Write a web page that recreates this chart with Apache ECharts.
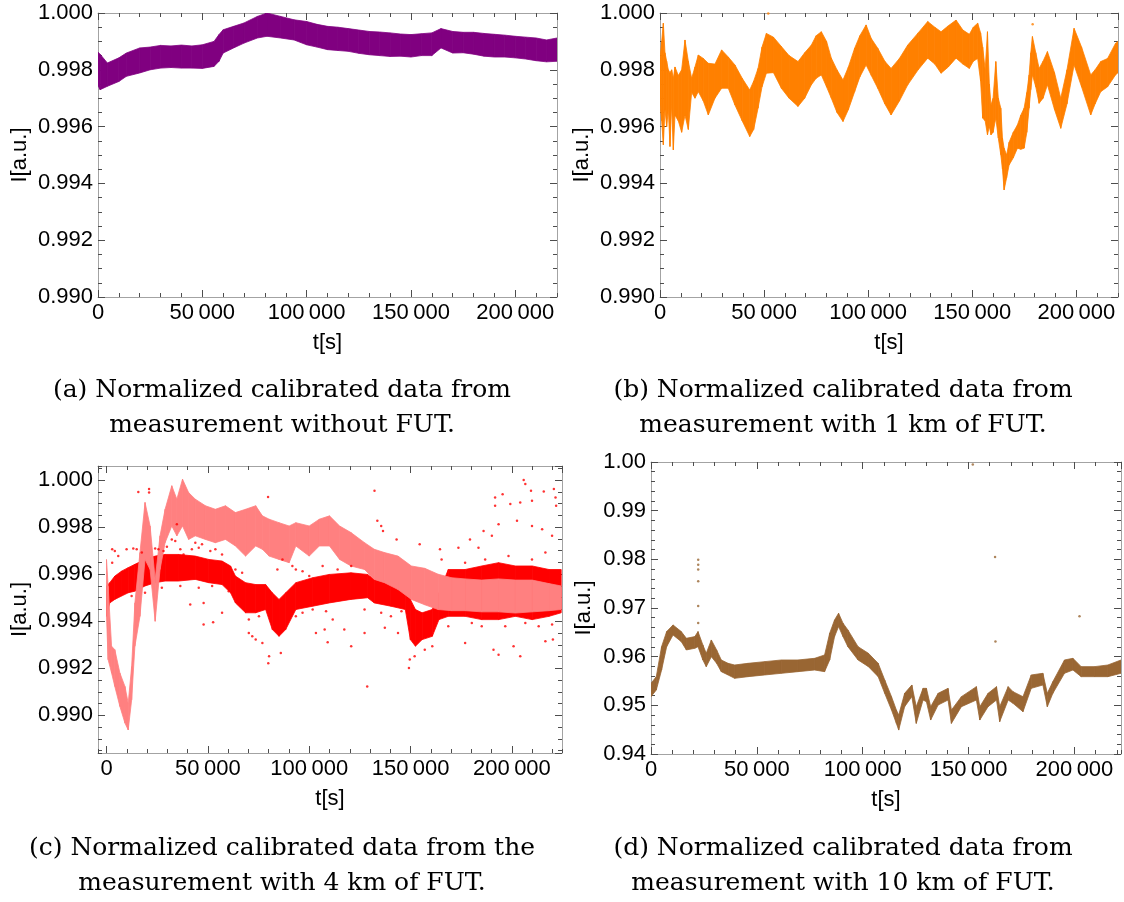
<!DOCTYPE html>
<html>
<head>
<meta charset="utf-8">
<script src="https://cdn.jsdelivr.net/npm/echarts@6/dist/echarts.min.js"></script>
<style>
  html, body { margin: 0; padding: 0; background: #fff; }
  #chart { width: 1124px; height: 902px; }
</style>
</head>
<body>
<div id="chart"></div>
<script>
// (a) without FUT - band edges
const tA  = [0, 1000, 4500, 10000, 13600, 20000, 25000, 30000, 35000, 40000, 45000, 50000, 55600, 58000, 60000, 65000, 70000, 76400, 81000, 87500, 94000, 100000, 105000, 110000, 115000, 120000, 125000, 130000, 135000, 140000, 145000, 150000, 155000, 160000, 164400, 170000, 175000, 180000, 185000, 190000, 195000, 200000, 205000, 210000, 215000, 220000];
const hiA = [0.99862, 0.99855, 0.99824, 0.99842, 0.99859, 0.99877, 0.99880, 0.99886, 0.99884, 0.99887, 0.99884, 0.99888, 0.99900, 0.99924, 0.99941, 0.99953, 0.99965, 0.99988, 1.00000, 0.99988, 0.99976, 0.99970, 0.99960, 0.99953, 0.99950, 0.99945, 0.99940, 0.99935, 0.99933, 0.99930, 0.99926, 0.99924, 0.99927, 0.99930, 0.99945, 0.99935, 0.99932, 0.99932, 0.99928, 0.99925, 0.99922, 0.99918, 0.99915, 0.99912, 0.99905, 0.99912];
const loA = [0.99745, 0.99730, 0.99742, 0.99759, 0.99777, 0.99789, 0.99800, 0.99806, 0.99808, 0.99806, 0.99806, 0.99805, 0.99812, 0.99830, 0.99859, 0.99877, 0.99894, 0.99912, 0.99918, 0.99912, 0.99905, 0.99888, 0.99880, 0.99871, 0.99868, 0.99865, 0.99858, 0.99853, 0.99850, 0.99847, 0.99848, 0.99845, 0.99850, 0.99850, 0.99877, 0.99859, 0.99860, 0.99855, 0.99848, 0.99845, 0.99845, 0.99842, 0.99838, 0.99832, 0.99828, 0.99830];

// (b) 1 km of FUT
const tB  = [0, 800, 1600, 2400, 3200, 4000, 4800, 5600, 6400, 7200, 8800, 10400, 12000, 13600, 15200, 16800, 18400, 20800, 23200, 26400, 29600, 32800, 36000, 39500, 43100, 45000, 47100, 49000, 51100, 54500, 58300, 62000, 66300, 69500, 72700, 75000, 77500, 80000, 82300, 85000, 87900, 90500, 93500, 96000, 99000, 101500, 104600, 108000, 111000, 115000, 119000, 124000, 128600, 132000, 135000, 138500, 142200, 145500, 148600, 150500, 152600, 154000, 155000, 156200, 157300, 158200, 159000, 160000, 161300, 162500, 163700, 164500, 165300, 166500, 167700, 169700, 171700, 173300, 174900, 176200, 177300, 178100, 178900, 180500, 182100, 184000, 186100, 189500, 192500, 195500, 198900, 202500, 206900, 209000, 211700, 215000, 218800, 220000];
const hiB = [0.99841, 0.99900, 0.99964, 0.99860, 0.99830, 0.99800, 0.99790, 0.99800, 0.99770, 0.99810, 0.99780, 0.99800, 0.99905, 0.99830, 0.99770, 0.99810, 0.99852, 0.99840, 0.99823, 0.99820, 0.99870, 0.99845, 0.99817, 0.99770, 0.99729, 0.99760, 0.99805, 0.99880, 0.99928, 0.99915, 0.99882, 0.99850, 0.99829, 0.99860, 0.99887, 0.99920, 0.99934, 0.99900, 0.99841, 0.99800, 0.99764, 0.99810, 0.99876, 0.99920, 0.99958, 0.99910, 0.99876, 0.99830, 0.99805, 0.99840, 0.99887, 0.99930, 0.99970, 0.99950, 0.99934, 0.99955, 0.99975, 0.99940, 0.99925, 0.99950, 0.99964, 0.99930, 0.99880, 0.99800, 0.99934, 0.99750, 0.99676, 0.99700, 0.99829, 0.99700, 0.99665, 0.99560, 0.99524, 0.99500, 0.99545, 0.99580, 0.99606, 0.99640, 0.99665, 0.99720, 0.99782, 0.99860, 0.99917, 0.99860, 0.99805, 0.99830, 0.99864, 0.99790, 0.99700, 0.99800, 0.99946, 0.99880, 0.99782, 0.99800, 0.99829, 0.99840, 0.99893, 0.99900];
const loB = [0.99676, 0.99620, 0.99536, 0.99660, 0.99600, 0.99660, 0.99530, 0.99680, 0.99518, 0.99640, 0.99620, 0.99580, 0.99640, 0.99590, 0.99720, 0.99700, 0.99723, 0.99690, 0.99641, 0.99700, 0.99735, 0.99735, 0.99676, 0.99620, 0.99565, 0.99590, 0.99665, 0.99740, 0.99788, 0.99790, 0.99735, 0.99700, 0.99671, 0.99700, 0.99747, 0.99770, 0.99782, 0.99740, 0.99700, 0.99650, 0.99618, 0.99660, 0.99723, 0.99775, 0.99817, 0.99780, 0.99735, 0.99680, 0.99641, 0.99690, 0.99747, 0.99800, 0.99841, 0.99820, 0.99788, 0.99810, 0.99841, 0.99820, 0.99805, 0.99830, 0.99840, 0.99760, 0.99630, 0.99620, 0.99571, 0.99600, 0.99571, 0.99580, 0.99630, 0.99560, 0.99501, 0.99450, 0.99377, 0.99420, 0.99465, 0.99490, 0.99524, 0.99520, 0.99524, 0.99580, 0.99665, 0.99730, 0.99782, 0.99740, 0.99682, 0.99700, 0.99747, 0.99660, 0.99594, 0.99680, 0.99817, 0.99740, 0.99641, 0.99680, 0.99723, 0.99740, 0.99782, 0.99790];
const dotsBt = [52000, 179000];
const dotsBv = [0.99998, 0.99960];

// (c) 4 km of FUT: pink band, red band and red outlier points
const tCp  = [0, 800, 2500, 4100, 6600, 9100, 10700, 12400, 14000, 16500, 19000, 21500, 24000, 26400, 28900, 32200, 34700, 37500, 40500, 43800, 48800, 53700, 58700, 63600, 68600, 73600, 76900, 80200, 85100, 90100, 93400, 100000, 105000, 110000, 115000, 120600, 127300, 132100, 137100, 143800, 150400, 157000, 163600, 170200, 176900, 185100, 193400, 201700, 210000, 218300, 224300];
const hiCp = [0.99663, 0.99549, 0.99294, 0.99279, 0.99180, 0.99123, 0.99052, 0.99208, 0.99478, 0.99692, 0.99905, 0.99805, 0.99578, 0.99763, 0.99876, 0.99976, 0.99919, 1.00004, 0.99947, 0.99919, 0.99891, 0.99876, 0.99891, 0.99862, 0.99876, 0.99891, 0.99848, 0.99834, 0.99819, 0.99805, 0.99819, 0.99805, 0.99834, 0.99848, 0.99805, 0.99777, 0.99734, 0.99706, 0.99692, 0.99677, 0.99635, 0.99625, 0.99600, 0.99585, 0.99580, 0.99575, 0.99580, 0.99575, 0.99575, 0.99560, 0.99550];
const loCp = [0.99421, 0.99237, 0.99180, 0.99123, 0.99038, 0.98967, 0.98938, 0.99066, 0.99294, 0.99421, 0.99663, 0.99620, 0.99400, 0.99620, 0.99734, 0.99805, 0.99763, 0.99805, 0.99748, 0.99763, 0.99748, 0.99734, 0.99748, 0.99720, 0.99677, 0.99720, 0.99706, 0.99677, 0.99663, 0.99649, 0.99720, 0.99677, 0.99720, 0.99720, 0.99663, 0.99635, 0.99620, 0.99578, 0.99564, 0.99535, 0.99493, 0.99470, 0.99450, 0.99445, 0.99445, 0.99440, 0.99440, 0.99435, 0.99440, 0.99445, 0.99450];
const tCr  = [0, 1600, 4100, 7400, 10700, 14000, 19000, 24000, 28900, 35500, 43800, 50400, 57000, 61200, 63600, 68600, 73600, 78500, 81800, 85100, 88400, 93400, 101700, 109900, 120600, 128800, 132100, 140300, 147400, 149900, 152400, 155700, 160700, 164000, 168600, 176900, 185100, 193400, 201700, 210000, 218300, 224300];
const hiCr = [0.99550, 0.99564, 0.99592, 0.99613, 0.99628, 0.99642, 0.99663, 0.99677, 0.99684, 0.99684, 0.99677, 0.99663, 0.99656, 0.99635, 0.99592, 0.99564, 0.99556, 0.99556, 0.99521, 0.99493, 0.99521, 0.99564, 0.99585, 0.99599, 0.99606, 0.99599, 0.99578, 0.99571, 0.99564, 0.99493, 0.99450, 0.99436, 0.99450, 0.99521, 0.99620, 0.99620, 0.99635, 0.99649, 0.99635, 0.99635, 0.99620, 0.99620];
const loCr = [0.99421, 0.99478, 0.99493, 0.99507, 0.99521, 0.99528, 0.99550, 0.99564, 0.99571, 0.99571, 0.99578, 0.99564, 0.99556, 0.99521, 0.99478, 0.99436, 0.99436, 0.99450, 0.99365, 0.99336, 0.99365, 0.99450, 0.99464, 0.99478, 0.99493, 0.99500, 0.99478, 0.99464, 0.99450, 0.99322, 0.99294, 0.99322, 0.99336, 0.99407, 0.99421, 0.99421, 0.99407, 0.99407, 0.99421, 0.99407, 0.99421, 0.99436];
const dotsCt = [15700, 21000, 21000, 2800, 2800, 13200, 14900, 24000, 25600, 32200, 33900, 42100, 43800, 47100, 41300, 47900, 47900, 52600, 57000, 63600, 66900, 70200, 71900, 73600, 76900, 79800, 80200, 86000, 84300, 86800, 93400, 100000, 103300, 107600, 109100, 111600, 79700, 34700,
  132200, 133600, 135500, 136400, 143100, 154500, 164500, 165300, 173600, 120700, 128600, 191700, 191700, 195400, 199200, 205800, 206600, 204100, 209400, 209900, 215700, 220700, 221500, 221800, 202500, 209900, 214900, 219800, 190100, 193400, 179300, 183500, 186000, 190900, 193400, 204100, 200800, 216500, 220200, 176900, 149600, 149200, 152000, 117300, 127300, 137300, 143800,
  4100, 5800, 9900, 17400, 28100, 29800, 36400, 38000, 45500, 51200, 53700, 57000, 36400, 45500, 52100, 60300, 12400, 19000, 27300, 70200, 75200, 93400, 96700, 101700, 108300, 91700, 96700, 106600,
  114000, 120700, 127300, 135500, 140300, 145500, 157000, 160700, 168600, 180200, 185100, 196700, 206600, 213200, 219800, 176900, 186800, 198300, 209900, 216500];
const dotsCv = [0.99950, 0.99962, 0.99947, 0.99706, 0.99649, 0.99709, 0.99706, 0.99709, 0.99706, 0.99748, 0.99741, 0.99706, 0.99734, 0.99727, 0.99471, 0.99478, 0.99386, 0.99396, 0.99436, 0.99620, 0.99606, 0.99350, 0.99336, 0.99322, 0.99308, 0.99222, 0.99251, 0.99265, 0.99620, 0.99663, 0.99620, 0.99592, 0.99350, 0.99365, 0.99311, 0.99407, 0.99928, 0.99812,
  0.99955, 0.99827, 0.99805, 0.99784, 0.99748, 0.99727, 0.99706, 0.99663, 0.99713, 0.99294, 0.99123, 0.99926, 0.99891, 0.99940, 0.99898, 1.00000, 0.99983, 0.99905, 0.99955, 0.99912, 0.99952, 0.99962, 0.99926, 0.99891, 0.99827, 0.99805, 0.99791, 0.99763, 0.99763, 0.99812, 0.99748, 0.99713, 0.99784, 0.99279, 0.99258, 0.99251, 0.99294, 0.99315, 0.99322, 0.99308, 0.99237, 0.99201, 0.99251, 0.99365, 0.99350, 0.99372, 0.99350,
  0.99699, 0.99677, 0.99706, 0.99692, 0.99699, 0.99717, 0.99706, 0.99684, 0.99713, 0.99699, 0.99706, 0.99684, 0.99550, 0.99542, 0.99550, 0.99528, 0.99507, 0.99521, 0.99542, 0.99407, 0.99421, 0.99421, 0.99436, 0.99450, 0.99443, 0.99635, 0.99613, 0.99635,
  0.99620, 0.99635, 0.99450, 0.99436, 0.99421, 0.99443, 0.99279, 0.99294, 0.99379, 0.99393, 0.99379, 0.99379, 0.99393, 0.99379, 0.99386, 0.99649, 0.99663, 0.99677, 0.99663, 0.99692];

// (d) 10 km of FUT
const tD  = [0, 2500, 5000, 7400, 10400, 14300, 16700, 20700, 22200, 24500, 26100, 28500, 31000, 33200, 36400, 39500, 45800, 53700, 61600, 69400, 77300, 82000, 84400, 86700, 88600, 90700, 93000, 97800, 102700, 107300, 110400, 113600, 115900, 117000, 119800, 123200, 125300, 128500, 130100, 132100, 135600, 140300, 141900, 146600, 153700, 155300, 159200, 163200, 164700, 168700, 171000, 175700, 179600, 185100, 187200, 189800, 195300, 199300, 203200, 209500, 215800, 222000];
const hiD = [0.95452, 0.95589, 0.96206, 0.96515, 0.96652, 0.96515, 0.96378, 0.96412, 0.96515, 0.96241, 0.96069, 0.96343, 0.96138, 0.95932, 0.95863, 0.95829, 0.95863, 0.95898, 0.95932, 0.95932, 0.95966, 0.96035, 0.96481, 0.96755, 0.96892, 0.96687, 0.96549, 0.96206, 0.96069, 0.95863, 0.95521, 0.95178, 0.94904, 0.94800, 0.95246, 0.95418, 0.94972, 0.95349, 0.95349, 0.94972, 0.95246, 0.95349, 0.94904, 0.95178, 0.95384, 0.94972, 0.95246, 0.95384, 0.94972, 0.95384, 0.95281, 0.95178, 0.95624, 0.95658, 0.95246, 0.95486, 0.95932, 0.95966, 0.95795, 0.95795, 0.95829, 0.95932];
const loD = [0.95178, 0.95315, 0.95726, 0.96206, 0.96446, 0.96309, 0.96138, 0.96172, 0.96206, 0.95932, 0.95795, 0.96000, 0.95863, 0.95692, 0.95624, 0.95555, 0.95589, 0.95624, 0.95658, 0.95692, 0.95726, 0.95692, 0.95932, 0.96412, 0.96618, 0.96412, 0.96206, 0.95932, 0.95795, 0.95589, 0.95246, 0.94904, 0.94629, 0.94492, 0.94972, 0.95178, 0.94629, 0.95109, 0.95075, 0.94698, 0.95006, 0.95109, 0.94629, 0.94972, 0.95109, 0.94698, 0.94972, 0.95109, 0.94664, 0.95109, 0.95041, 0.94869, 0.95349, 0.95418, 0.94972, 0.95246, 0.95658, 0.95726, 0.95589, 0.95589, 0.95589, 0.95658];
const dotsDt = [22300, 22300, 22300, 22300, 22300, 22300, 162500, 162700, 202400, 152000];
const dotsDv = [0.9799, 0.9789, 0.9779, 0.9755, 0.9704, 0.9669, 0.9805, 0.9631, 0.9683, 0.9995];

const captions = [
  ['(a) Normalized calibrated data from', 'measurement without FUT.'],
  ['(b) Normalized calibrated data from', 'measurement with 1 km of FUT.'],
  ['(c) Normalized calibrated data from the', 'measurement with 4 km of FUT.'],
  ['(d) Normalized calibrated data from', 'measurement with 10 km of FUT.']
];

const FRAME = '#a3a3a3';
const TICK = '#4d4d4d';
const SANS = '"Liberation Sans", Arial, sans-serif';
const labelFont = { fontFamily: SANS, fontSize: 22, color: '#000' };

const grids = [
  { left: 98, top: 13, width: 459, height: 284 },
  { left: 660, top: 13, width: 458, height: 284 },
  { left: 98, top: 466, width: 464, height: 287 },
  { left: 651, top: 462, width: 470, height: 292 }
];

function fmtT(v) {
  return String(Math.round(v)).replace(/\B(?=(\d{3})+(?!\d))/g, '\u2009');
}

// 4 axes per side pair: labelled major, minor ticks, mirrored major, mirrored minor
function axisSet(dim, g, min, max, majorSplit, minorSplit, lab) {
  const near = dim === 'x' ? 'bottom' : 'left';
  const far = dim === 'x' ? 'top' : 'right';
  const base = { gridIndex: g, type: 'value', min: min, max: max, splitLine: { show: false } };
  const major = (pos, withLabel) => Object.assign({}, base, {
    position: pos,
    splitNumber: majorSplit,
    axisLine: { show: true, onZero: false, lineStyle: { color: FRAME, width: 1 } },
    axisTick: { show: true, inside: true, length: 7, lineStyle: { color: TICK } },
    axisLabel: withLabel ? Object.assign({
      show: true, margin: 5, formatter: lab.fmt,
      showMinLabel: lab.showMin, showMaxLabel: lab.showMax
    }, labelFont) : { show: false },
    name: withLabel ? lab.name : '',
    nameLocation: 'middle',
    nameGap: lab.gap,
    nameRotate: dim === 'y' ? 90 : 0,
    nameTextStyle: labelFont
  });
  const minor = pos => Object.assign({}, base, {
    position: pos,
    splitNumber: minorSplit,
    axisLine: { show: false, onZero: false },
    axisTick: { show: true, inside: true, length: 4, lineStyle: { color: TICK } },
    axisLabel: { show: false }
  });
  return [major(near, true), minor(near), major(far, false), minor(far)];
}

const xAxes = [].concat(
  axisSet('x', 0, 0, 220000, 5, 22, { fmt: fmtT, showMin: true, showMax: false, name: 't[s]', gap: 35 }),
  axisSet('x', 1, 0, 220000, 5, 22, { fmt: fmtT, showMin: true, showMax: false, name: 't[s]', gap: 35 }),
  axisSet('x', 2, -4200, 224700, 5, 23, { fmt: fmtT, showMin: false, showMax: false, name: 't[s]', gap: 35 }),
  axisSet('x', 3, 0, 222000, 5, 22, { fmt: fmtT, showMin: true, showMax: false, name: 't[s]', gap: 35 })
);
const fmt3 = v => v.toFixed(3);
const fmt2 = v => v.toFixed(2);
const yAxes = [].concat(
  axisSet('y', 0, 0.990, 1.000, 5, 20, { fmt: fmt3, showMin: true, showMax: true, name: 'I[a.u.]', gap: 67 }),
  axisSet('y', 1, 0.990, 1.000, 5, 20, { fmt: fmt3, showMin: true, showMax: true, name: 'I[a.u.]', gap: 67 }),
  axisSet('y', 2, 0.9884, 1.0006, 6, 24, { fmt: fmt3, showMin: false, showMax: false, name: 'I[a.u.]', gap: 67 }),
  axisSet('y', 3, 0.94, 1.00, 6, 30, { fmt: fmt2, showMin: true, showMax: true, name: 'I[a.u.]', gap: 56 })
);

// band between lower and upper envelope, one quad per segment, positioned via api.coord
function band(g, t, lo, hi, color) {
  const segs = [];
  for (let i = 0; i < t.length - 1; i++) {
    segs.push([t[i], lo[i], hi[i], t[i + 1], lo[i + 1], hi[i + 1]]);
  }
  return {
    type: 'custom', xAxisIndex: g * 4, yAxisIndex: g * 4, clip: true,
    encode: { x: [0, 3], y: [1, 2, 4, 5] },
    data: segs,
    renderItem: function (params, api) {
      const p1 = api.coord([api.value(0), api.value(1)]);
      const p2 = api.coord([api.value(3), api.value(4)]);
      const p3 = api.coord([api.value(3), api.value(5)]);
      const p4 = api.coord([api.value(0), api.value(2)]);
      return {
        type: 'polygon',
        shape: { points: [p1, p2, p3, p4] },
        style: { fill: color, stroke: color, lineWidth: 0.8 }
      };
    }
  };
}

function dots(g, t, v, color, size) {
  return { type: 'scatter', xAxisIndex: g * 4, yAxisIndex: g * 4, symbolSize: size, clip: true,
    data: t.map((x, i) => [x, v[i]]), itemStyle: { color: color } };
}

const series = [
  band(0, tA, loA, hiA, '#800080'),
  band(1, tB, loB, hiB, '#ff8000'),
  dots(1, dotsBt, dotsBv, '#ff8000', 2.5),
  band(2, tCr, loCr, hiCr, '#ff0000'),
  dots(2, dotsCt, dotsCv, '#ff0000', 2.5),
  band(2, tCp, loCp, hiCp, '#ff8080'),
  band(3, tD, loD, hiD, '#996633'),
  dots(3, dotsDt, dotsDv, '#996633', 2.5)
];

const capPos = [[282, 390], [843, 390], [282, 848], [843, 848]];
const graphics = [];
captions.forEach((lines, k) => {
  lines.forEach((txt, j) => {
    graphics.push({
      type: 'text', x: capPos[k][0], y: capPos[k][1] + j * 35,
      style: { text: txt, fill: '#000', font: '25px "DejaVu Serif", serif',
        align: 'center', verticalAlign: 'middle', textAlign: 'center', textVerticalAlign: 'middle' }
    });
  });
});

const chart = echarts.init(document.getElementById('chart'));
chart.setOption({
  animation: false,
  backgroundColor: '#fff',
  grid: grids,
  xAxis: xAxes,
  yAxis: yAxes,
  series: series,
  graphic: graphics
});
</script>
</body>
</html>
